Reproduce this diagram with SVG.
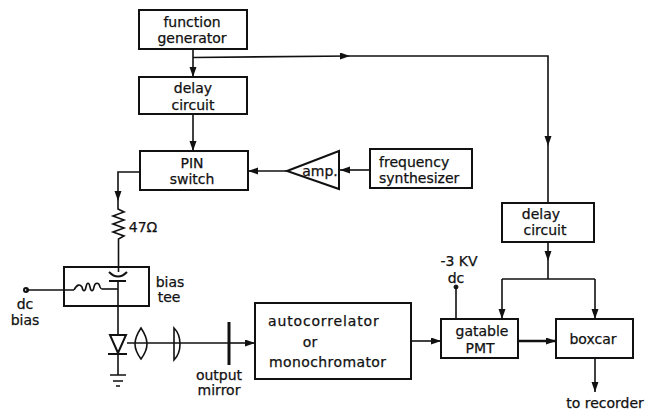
<svg xmlns="http://www.w3.org/2000/svg" width="647" height="414" viewBox="0 0 647 414">
<defs>
<marker id="a" markerUnits="userSpaceOnUse" markerWidth="12" markerHeight="8" refX="10" refY="3.500" orient="auto"><path d="M0 0L10 3.500L0 7Z" fill="#111"/></marker>
</defs>
<style>
rect,.s{fill:none;stroke:#111;stroke-width:2}
.l{fill:none;stroke:#111;stroke-width:1.600}
.ar{marker-end:url(#a)}
text{font-family:"DejaVu Sans",sans-serif;font-size:14px;fill:#111;text-anchor:middle;stroke:#111;stroke-width:.25}
.st{text-anchor:start}
</style>
<rect width="647" height="414" style="fill:#fff;stroke:none"/>
<g id="connectors" class="l">
<path class="l ar" d="M193 49V77"/>
<path class="l ar" d="M193 57.500L350 56"/>
<path class="l ar" d="M350 56H548V146"/>
<path class="l" d="M548 146V203"/>
<path class="l ar" d="M193 114V151"/>
<path class="l ar" d="M287 171H248"/>
<path class="l ar" d="M370 170H340"/>
<path class="l ar" d="M140 172H118V201"/>
<path class="l" d="M118 201V209l6 3l-11 4l11 4l-11 4l11 4l-11 4l11 4l-5.500 3V272"/>
<path class="l" d="M118 281V335"/>
<path class="l" d="M26 290H74"/>
<path class="l" d="M102 289H118"/>
<path class="l" d="M118 354V375"/>
<path class="l" d="M127 343H229"/>
<path class="l ar" d="M229 343H255"/>
<path class="l ar" d="M411 341H441"/>
<path class="l ar" d="M518 341H556" style="stroke-width:2.400"/>
<path class="l ar" d="M548 242V261"/>
<path class="l" d="M548 261V279"/>
<path class="l" d="M502 279H595"/>
<path class="l ar" d="M502 279V319"/>
<path class="l ar" d="M595 279V319"/>
<path class="l" d="M456 287V319"/>
<path class="l ar" d="M595 358V392"/>
</g>
<g id="n-function-generator"><rect x="139" y="10" width="108" height="39"/><text x="192" y="27">function</text><text x="192" y="43">generator</text></g>
<g id="n-delay-1"><rect x="139" y="77" width="108" height="37"/><text x="193" y="93">delay</text><text x="193" y="110">circuit</text></g>
<g id="n-pin"><rect x="140" y="151" width="108" height="39"/><text x="192" y="168">PIN</text><text x="192" y="184">switch</text></g>
<g id="n-amp"><path class="s" d="M287 171L339 151V189Z"/><text x="320" y="176">amp.</text></g>
<g id="n-freq"><rect x="370" y="149" width="102" height="39"/><text class="st" x="379" y="167">frequency</text><text class="st" x="379" y="183">synthesizer</text></g>
<g id="n-delay-2"><rect x="502" y="203" width="92" height="39"/><text x="541" y="219">delay</text><text x="545" y="235">circuit</text></g>
<g id="n-r"><text x="143" y="232">47Ω</text></g>
<g id="n-bias-tee"><rect x="64" y="267" width="85" height="39"/>
<path class="l" d="M74 290c3-6 6-6 8-3c1 5 3 5 4 0c1-5 3-5 4 0c1 5 3 5 4 0c1-5 5-5 6 0c1 2 1 2 2 2"/>
<path class="l" d="M109 272Q118 281 127 272M109 281H126" style="stroke-width:2"/>
<text x="170" y="287">bias</text><text x="169" y="302">tee</text></g>
<g id="n-dc-bias"><circle cx="26" cy="290" r="2" class="s"/><text x="25" y="309">dc</text><text x="25" y="325">bias</text></g>
<g id="n-diode"><path class="s" d="M110 335H126L118 353Z"/><path class="l" d="M108 354H127" style="stroke-width:2"/></g>
<g id="n-ground"><path class="l" d="M110 375H126M113 381H123M116 386H120"/></g>
<g id="n-lens-1"><path class="s" d="M141 328C133 340 133 348 141 359C149 348 149 340 141 328Z" style="stroke-width:1.600"/></g>
<g id="n-lens-2"><path class="s" d="M174 328c8 8 8 24 0 32Z" style="stroke-width:1.600"/></g>
<g id="n-mirror"><path class="l" d="M229 322V365" style="stroke-width:3"/><text x="219" y="380">output</text><text x="219" y="395">mirror</text></g>
<g id="n-auto"><rect x="255" y="303" width="156" height="76"/><text class="st" x="268" y="326" style="letter-spacing:.85px">autocorrelator</text><text x="310" y="347">or</text><text class="st" x="269" y="367" style="letter-spacing:.4px">monochromator</text></g>
<g id="n-pmt"><rect x="441" y="319" width="77" height="39"/><text x="482" y="336">gatable</text><text x="480" y="353">PMT</text></g>
<g id="n-hv"><circle cx="456" cy="287" r="2" style="fill:#111;stroke:#111"/><text x="459" y="266">-3 KV</text><text x="456" y="283">dc</text></g>
<g id="n-boxcar"><rect x="556" y="319" width="77" height="39"/><text x="593" y="344">boxcar</text></g>
<g id="n-recorder"><text x="605" y="408">to recorder</text></g>
</svg>
